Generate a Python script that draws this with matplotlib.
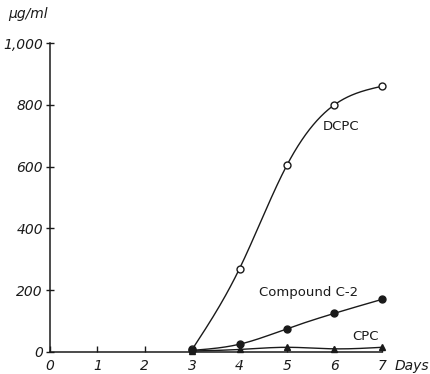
import numpy as np
import matplotlib.pyplot as plt

days = [3, 4, 5, 6, 7]
dcpc = [8, 270, 605, 800, 860]
c2 = [5, 25, 75, 125, 170]
cpc = [3, 8, 15, 10, 15]

xticks = [0, 1, 2, 3, 4, 5, 6, 7]
yticks = [0, 200, 400, 600, 800, 1000]
ylabels = ["0", "200", "400", "600", "800", "1,000"]


def smooth(x, y, n=200):
    # natural cubic spline through the points, only for drawing the line
    x = np.asarray(x, float)
    y = np.asarray(y, float)
    k = len(x)
    h = np.diff(x)
    A = np.zeros((k, k))
    b = np.zeros(k)
    A[0, 0] = A[-1, -1] = 1
    for i in range(1, k - 1):
        A[i, i - 1] = h[i - 1]
        A[i, i] = 2 * (h[i - 1] + h[i])
        A[i, i + 1] = h[i]
        b[i] = 6 * ((y[i + 1] - y[i]) / h[i] - (y[i] - y[i - 1]) / h[i - 1])
    m = np.linalg.solve(A, b)
    xs = np.linspace(x[0], x[-1], n)
    idx = np.clip(np.searchsorted(x, xs) - 1, 0, k - 2)
    x0, x1, hh = x[idx], x[idx + 1], h[idx]
    ys = (m[idx] * (x1 - xs) ** 3 / (6 * hh) + m[idx + 1] * (xs - x0) ** 3 / (6 * hh)
          + (y[idx] / hh - m[idx] * hh / 6) * (x1 - xs)
          + (y[idx + 1] / hh - m[idx + 1] * hh / 6) * (xs - x0))
    return xs, ys


plt.rcParams["font.family"] = ["DejaVu Sans"]
fig = plt.figure(figsize=(4.3, 3.74), dpi=100)
ax = fig.add_axes([0.116, 0.059, 0.772, 0.826])

ink = "#1a1a1a"
for vals, mk, fc in [(dcpc, "o", "white"), (c2, "o", ink), (cpc, "^", ink)]:
    sx, sy = smooth(days, vals)
    ax.plot(sx, sy, color=ink, lw=1.0, zorder=2)
    ax.plot(days, vals, ls="none", marker=mk, ms=5, mfc=fc, mec=ink, mew=1.0, zorder=3, clip_on=False)

ax.set_xlim(0, 7)
ax.set_ylim(0, 1000)
ax.set_xticks(xticks)
ax.set_xticklabels([str(v) for v in xticks], fontstyle="italic", fontsize=10, color=ink)
ax.set_yticks(yticks)
ax.set_yticklabels(ylabels, fontstyle="italic", fontsize=10, color=ink)
ax.tick_params(axis="x", direction="in", length=4, width=1, pad=5, color=ink)
ax.tick_params(axis="y", direction="inout", length=6, width=1, pad=2, color=ink)
for s in ["top", "right"]:
    ax.spines[s].set_visible(False)
for s in ["left", "bottom"]:
    ax.spines[s].set_linewidth(1.1)
    ax.spines[s].set_color(ink)

ax.text(6.13, 730, "DCPC", fontsize=9.5, ha="center", va="center", color=ink)
ax.text(5.45, 194, "Compound C-2", fontsize=9.5, ha="center", va="center", color=ink)
ax.text(6.66, 50, "CPC", fontsize=9.5, ha="center", va="center", color=ink)

fig.text(0.918, 0.003, "Days", fontsize=10, fontstyle="italic", ha="left", va="bottom", color=ink)
fig.text(0.02, 0.945, "µg/ml", fontsize=10, fontstyle="italic", ha="left", va="bottom", color=ink)

fig.savefig("out.png", dpi=100)
